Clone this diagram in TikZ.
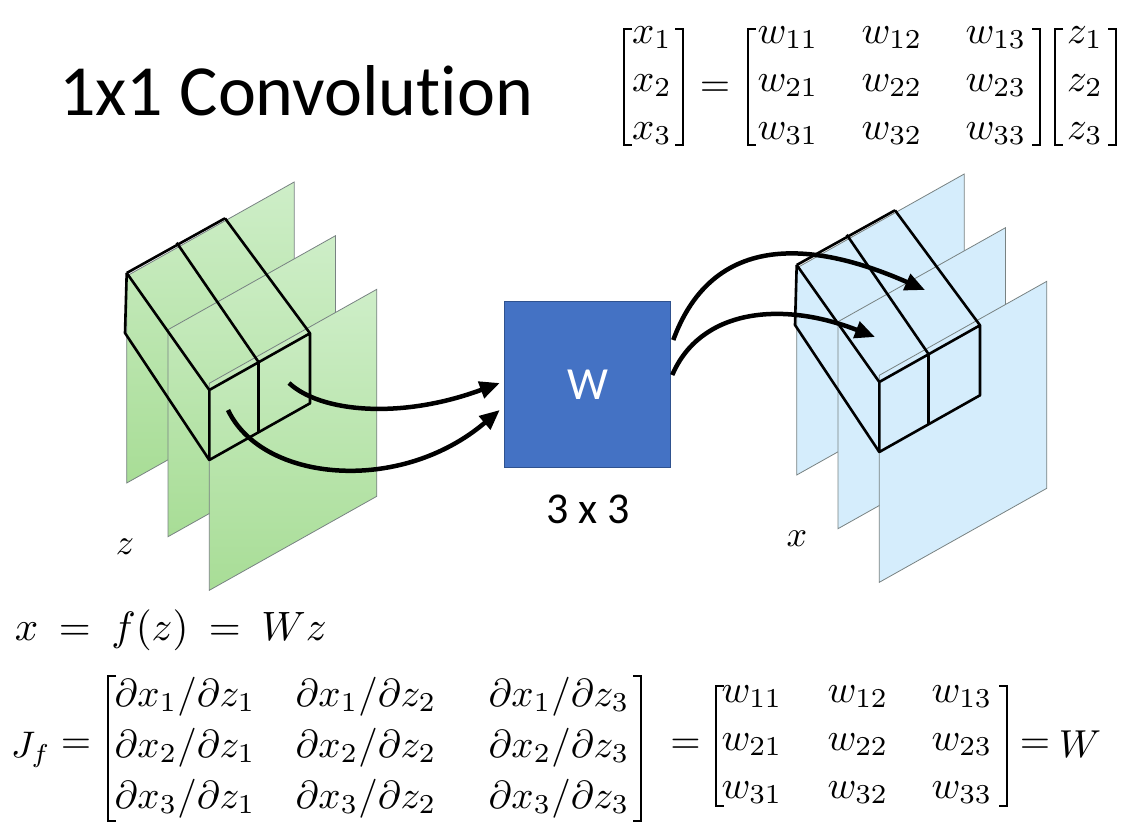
\documentclass[tikz,border=0pt]{standalone}
\usepackage{fontspec}
\setmainfont[Ligatures=CommonOff]{Carlito}
\usepackage{amsmath}
\usepackage{graphicx}
\usetikzlibrary{arrows.meta}
\definecolor{gtop}{RGB}{206,238,200}
\definecolor{gbot}{RGB}{168,221,150}
\definecolor{bplane}{RGB}{213,237,252}
\definecolor{pedge}{RGB}{120,130,130}
\definecolor{wfill}{RGB}{68,114,196}
\definecolor{wdraw}{RGB}{47,82,143}
\newcommand{\mymath}[1]{\scalebox{3.9}{$#1$}}
\newcommand{\lbrk}[3]{\draw[brk] (#1+8,#2) -- (#1,#2) -- (#1,#3) -- (#1+8,#3);}
\newcommand{\rbrk}[3]{\draw[brk] (#1-8,#2) -- (#1,#2) -- (#1,#3) -- (#1-8,#3);}
\newcommand{\drawplanes}[1]{%
  \foreach \dx/\dy in {0/0, 41.3/53.7, 82.6/107.3}{%
    \path[#1] (126.7+\dx,276+\dy) -- ++(167.5,-94) -- ++(0,207) -- ++(-167.5,94) -- cycle;
  }%
}
\newcommand{\drawcube}{%
  \draw[cube] (126.7,273) -- (225,218.3);
  \draw[cube] (126.7,273) -- (209.3,390);
  \draw[cube] (176.7,242.7) -- (258.3,361.7);
  \draw[cube] (225,218.3) -- (310,333.3);
  \draw[cube] (209.3,390) -- (310,333.3) -- (310,403.3) -- (209.3,460) -- cycle;
  \draw[cube] (258.3,361.7) -- (258.3,431.7);
  \draw[cube] (126.7,273) -- (125,333) -- (209.3,460);
}
\tikzset{
  gplane/.style={draw=pedge, line width=0.8pt, top color=gtop, bottom color=gbot},
  bplanestyle/.style={draw=pedge, line width=0.8pt, fill=bplane},
  cube/.style={line width=2.6pt, line join=round},
  arr/.style={line width=4.5pt, -{Triangle[length=20pt,width=17pt]}},
  brk/.style={line width=2.4pt},
  mnode/.style={inner sep=0pt, outer sep=0pt},
  wbox/.style={draw=wdraw, line width=1pt, fill=wfill, minimum width=166.5pt, minimum height=166.5pt, inner sep=0pt, text=white, font=\fontsize{46}{50}\selectfont},
}
\begin{document}
\begin{tikzpicture}[x=1pt,y=-1pt]
\useasboundingbox (0,0) rectangle (1144,838);
% title
\node[anchor=base west, inner sep=0pt, font=\fontsize{72}{80}\selectfont] (title) at (59,115) {1x1 Convolution};

% left stack (z)
\drawplanes{gplane}
\drawcube
% right stack (x)
\begin{scope}[shift={(670,-8)}]
  \drawplanes{bplanestyle}
  \drawcube
\end{scope}

% W box
\node[wbox] (W) at (587.5,384.5) {W};
\node[inner sep=0pt, font=\fontsize{44}{50}\selectfont] (dims) at (588,509) {3 x 3};

% labels
\node[mnode] (zlab) at (125,547) {\scalebox{3.6}{$z$}};
\node[mnode] (xlab) at (797,539) {\scalebox{3.6}{$x$}};

% arrow endpoints in cells
\coordinate (zA) at (289,383);
\coordinate (zB) at (228,410);
\coordinate (xA) at (925,290);
\coordinate (xB) at (875,337);

\draw[arr] (zA) .. controls (320,412) and (400,420) .. ([xshift=-4pt,yshift=1.5pt]W.west);
\draw[arr] (zB) .. controls (262,482) and (400,495) .. ([xshift=-4pt,yshift=-25.5pt]W.west);
\draw[arr] ([xshift=2pt,yshift=44.5pt]W.east) .. controls (710,240) and (800,235) .. (xA);
\draw[arr] ([xshift=1pt,yshift=9.5pt]W.east) .. controls (700,310) and (780,300) .. (xB);

% top formula
\lbrk{624}{29}{145}\rbrk{683}{29}{145}
\lbrk{748}{29}{145}\rbrk{1040}{29}{145}
\lbrk{1055}{29}{145}\rbrk{1116}{29}{145}
\node[mnode] (teq) at (715,89) {\mymath{=}};
\foreach \r/\y in {1/43,2/91,3/139}{
  \node[mnode, anchor=base] (tx\r) at (652,\y) {\mymath{x_{\r}}};
  \node[mnode, anchor=base] (tz\r) at (1085,\y) {\mymath{z_{\r}}};
  \foreach \c/\x in {1/788,2/892,3/996}{
    \node[mnode, anchor=base] (tw\r\c) at (\x,\y) {\mymath{w_{\r\c}}};
  }
}

% x = f(z) = Wz
\node[mnode, anchor=base west] (feq) at (15,640) {\scalebox{4.1}{$x\:=\:f(z)\:=\:Wz$}};

% Jacobian
\node[mnode, anchor=base west] (jf) at (11,757) {\scalebox{3.7}{$J_f$}};
\node[mnode] (jeq1) at (76,746) {\mymath{=}};
\lbrk{108}{676}{821}\rbrk{641}{676}{821}
\foreach \r/\y in {1/706,2/757,3/808}{
  \foreach \c/\x in {1/185,2/366,3/559}{
    \node[mnode, anchor=base] (jd\r\c) at (\x,\y) {\mymath{\partial x_{\r}/\partial z_{\c}}};
  }
}
\node[mnode] (jeq2) at (685.5,746) {\mymath{=}};
\lbrk{716}{686}{806}\rbrk{1007}{686}{806}
\foreach \r/\y in {1/702,2/750,3/798}{
  \foreach \c/\x in {1/752,2/858,3/962}{
    \node[mnode, anchor=base] (bw\r\c) at (\x,\y) {\mymath{w_{\r\c}}};
  }
}
\node[mnode] (jeq3) at (1035,746) {\mymath{=}};
\node[mnode, anchor=base] (bW) at (1080,757) {\mymath{W}};
\end{tikzpicture}
\end{document}
